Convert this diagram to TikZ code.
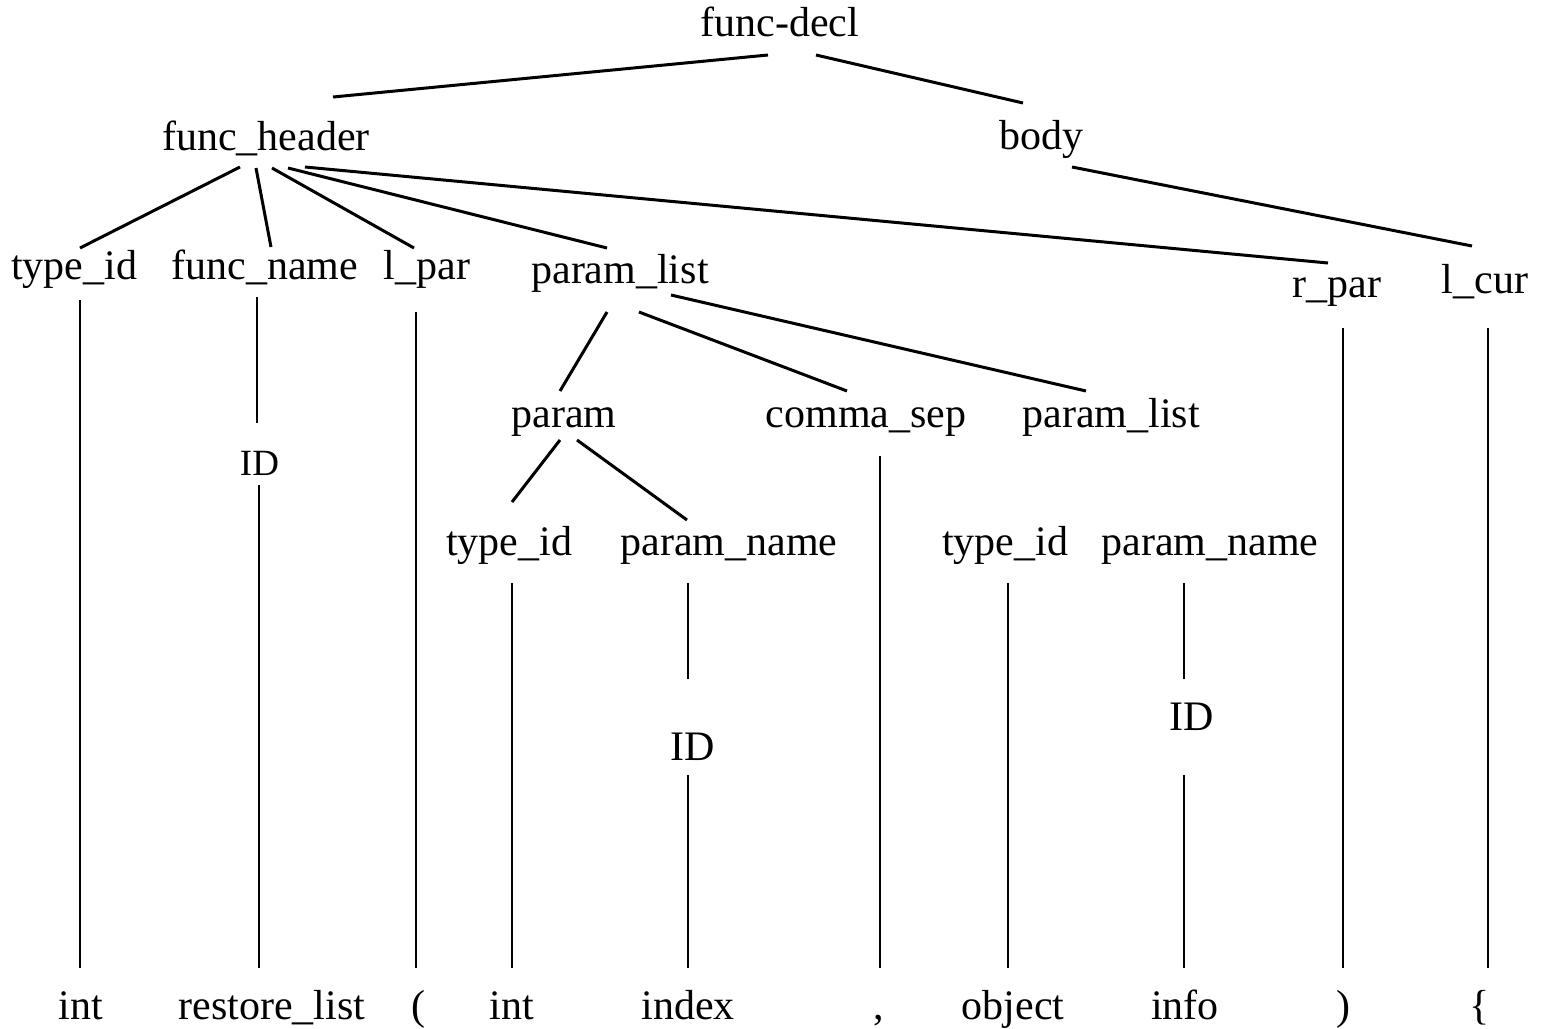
\documentclass[tikz,border=0pt]{standalone}
\usepackage{fontspec}
\setmainfont{Liberation Serif}
\usetikzlibrary{calc}
\begin{document}
\begin{tikzpicture}[x=1pt,y=-1pt,
  lbl/.style={anchor=base,inner sep=0pt,font=\fontsize{42}{50}\selectfont},
  small/.style={anchor=base,inner sep=0pt,font=\fontsize{37}{44}\selectfont},
  edge/.style={line width=3pt},
  vedge/.style={line width=2pt}]
\useasboundingbox[fill=white] (0,0) rectangle (1547,1028);

% tree nodes
\node[lbl] (fd)  at (780,36)  {func-decl};
\node[lbl] (fh)  at (266,150) {func\_header};
\node[lbl] (bd)  at (1041,149) {body};
\node[lbl] (t1)  at (74,279)  {type\_id};
\node[lbl] (fn)  at (265,279) {func\_name};
\node[lbl] (lp)  at (427,279) {l\_par};
\node[lbl] (pl1) at (620,283) {param\_list};
\node[lbl] (rp)  at (1337,297) {r\_par};
\node[lbl] (lc)  at (1485,293) {l\_cur};
\node[lbl] (pm)  at (564,427) {param};
\node[lbl] (cs)  at (866,427) {comma\_sep};
\node[lbl] (pl2) at (1111,427) {param\_list};
\node[lbl] (t2)  at (509,555) {type\_id};
\node[lbl] (pn1) at (729,555) {param\_name};
\node[lbl] (t3)  at (1005,555) {type\_id};
\node[lbl] (pn2) at (1210,555) {param\_name};
\node[small] (id1) at (259.5,475) {ID};
\node[lbl] (id2) at (693,760) {ID};
\node[lbl] (id3) at (1192,730) {ID};

% tokens
\node[lbl] (k1)  at (81,1019)   {int};
\node[lbl] (k2)  at (272,1019)  {restore\_list};
\node[lbl] (k3)  at (418,1019)  {(};
\node[lbl] (k4)  at (512,1019)  {int};
\node[lbl] (k5)  at (688,1019)  {index};
\node[lbl] (k6)  at (879,1019)  {,};
\node[lbl] (k7)  at (1013,1019) {object};
\node[lbl] (k8)  at (1185,1019) {info};
\node[lbl] (k9)  at (1343,1019) {)};
\node[lbl] (k10) at (1480,1019) {\{};

% branches
\draw[edge] ($(fd.base)+(-12,19)$) -- ($(fh.base)+(67,-53)$);
\draw[edge] ($(fd.base)+(36,19)$)  -- ($(bd.base)+(-18,-46)$);
\draw[edge] ($(fh.base)+(-26,17)$) -- ($(t1.base)+(6,-31)$);
\draw[edge] ($(fh.base)+(-10,18)$) -- ($(fn.base)+(6,-32)$);
\draw[edge] ($(fh.base)+(6,18)$)   -- ($(lp.base)+(-13,-31)$);
\draw[edge] ($(fh.base)+(22,18)$)  -- ($(pl1.base)+(-13,-35)$);
\draw[edge] ($(fh.base)+(39,17)$)  -- ($(rp.base)+(-9,-34)$);
\draw[edge] ($(bd.base)+(31,18)$)  -- ($(lc.base)+(-13,-47)$);
\draw[edge] ($(pl1.base)+(-13,29)$) -- ($(pm.base)+(-4,-36)$);
\draw[edge] ($(pl1.base)+(19,29)$)  -- ($(cs.base)+(-19,-36)$);
\draw[edge] ($(pl1.base)+(51,12)$)  -- ($(pl2.base)+(-25,-36)$);
\draw[edge] ($(pm.base)+(-4,13)$)  -- ($(t2.base)+(3,-53)$);
\draw[edge] ($(pm.base)+(13,13)$)  -- ($(pn1.base)+(-42,-35)$);

% vertical links down to the tokens
\draw[vedge] ($(t1.base)+(6,21)$)   -- ($(k1.base)+(-1,-51)$);
\draw[vedge] ($(fn.base)+(-8,18)$)  -- ($(id1.base)+(-2.5,-52)$);
\draw[vedge] ($(id1.base)+(-0.5,10)$) -- ($(k2.base)+(-13,-51)$);
\draw[vedge] ($(lp.base)+(-11,33)$) -- ($(k3.base)+(-2,-51)$);
\draw[vedge] ($(t2.base)+(3,28)$)   -- ($(k4.base)+(0,-51)$);
\draw[vedge] ($(pn1.base)+(-41,28)$) -- ($(id2.base)+(-5,-81)$);
\draw[vedge] ($(id2.base)+(-5,15)$) -- ($(k5.base)+(0,-51)$);
\draw[vedge] ($(cs.base)+(14,29)$)  -- ($(k6.base)+(1,-51)$);
\draw[vedge] ($(t3.base)+(3,28)$)   -- ($(k7.base)+(-5,-51)$);
\draw[vedge] ($(pn2.base)+(-26,28)$) -- ($(id3.base)+(-8,-51)$);
\draw[vedge] ($(id3.base)+(-8,45)$) -- ($(k8.base)+(-1,-51)$);
\draw[vedge] ($(rp.base)+(6,31)$)   -- ($(k9.base)+(0,-51)$);
\draw[vedge] ($(lc.base)+(3,35)$)   -- ($(k10.base)+(8,-51)$);
\end{tikzpicture}
\end{document}
